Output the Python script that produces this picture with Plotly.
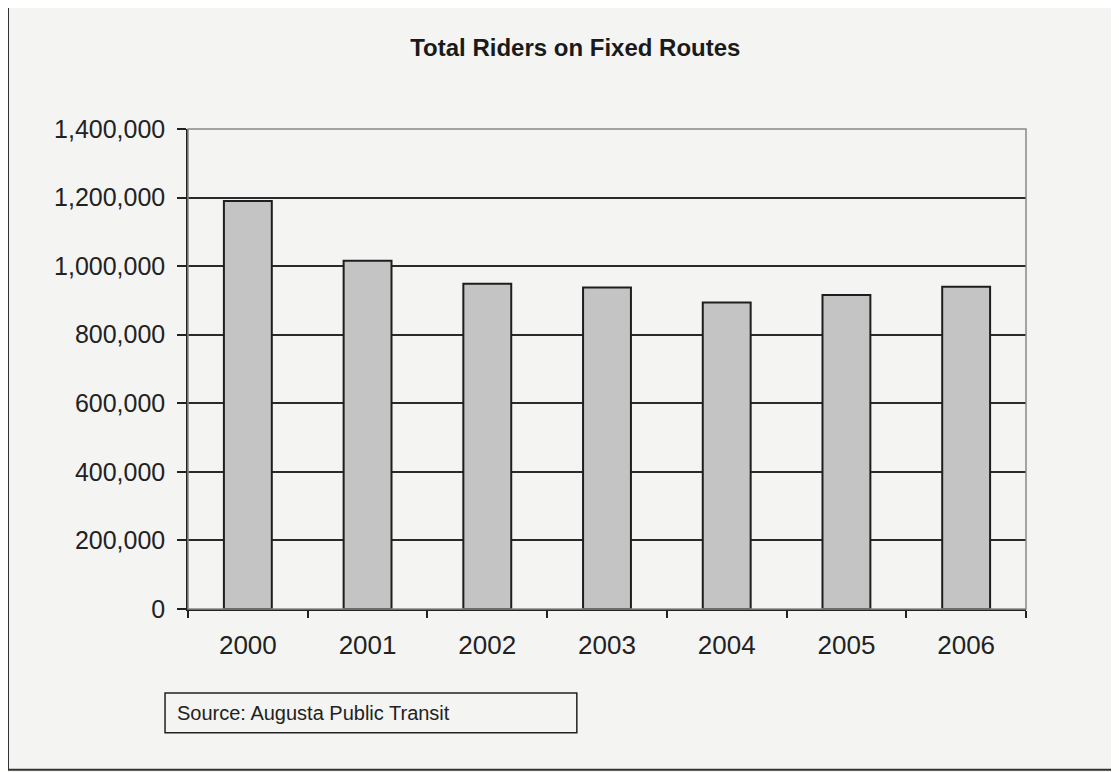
import plotly.graph_objects as go

years = ["2000", "2001", "2002", "2003", "2004", "2005", "2006"]
riders = [1190000, 1016000, 949000, 938000, 894000, 916000, 940000]
y_ticks = [0, 200000, 400000, 600000, 800000, 1000000, 1200000, 1400000]
y_labels = ["0", "200,000", "400,000", "600,000", "800,000", "1,000,000", "1,200,000", "1,400,000"]

BG = "#f4f4f3"
FONT = "Liberation Sans, Arial, sans-serif"

fig = go.Figure()
fig.add_trace(go.Bar(
    x=years,
    y=riders,
    marker=dict(color="#c4c4c4", line=dict(color="#1e1e1e", width=2)),
    showlegend=False,
))

fig.update_layout(
    width=1119,
    height=772,
    paper_bgcolor=BG,
    plot_bgcolor=BG,
    margin=dict(l=180, r=101, t=121, b=171),
    bargap=0.6,
    font=dict(family=FONT, color="#222"),
    title=dict(
        text="<b>Total Riders on Fixed Routes</b>",
        x=0.507, xanchor="center",
        y=0.949, yanchor="middle",
        font=dict(size=24, family=FONT, color="#1a1a1a"),
    ),
    xaxis=dict(
        type="category",
        tickson="boundaries",
        ticks="outside",
        ticklen=7,
        tickwidth=1.5,
        tickcolor="#222",
        showline=True,
        linecolor="#222",
        linewidth=1.5,
        showgrid=False,
        tickfont=dict(size=26, family=FONT, color="#222"),
        ticklabelstandoff=12,
    ),
    yaxis=dict(
        range=[0, 1400000],
        tickvals=y_ticks,
        ticktext=y_labels,
        ticks="outside",
        ticklen=9,
        tickwidth=1.5,
        tickcolor="#222",
        showline=True,
        linecolor="#222",
        linewidth=1.5,
        showgrid=True,
        gridcolor="#2a2a2a",
        gridwidth=1.5,
        zeroline=False,
        tickfont=dict(size=25, family=FONT, color="#222"),
        ticklabelstandoff=7,
    ),
    shapes=[
        # plot area border (right and top edges appear lighter)
        dict(type="rect", xref="paper", yref="paper", x0=0, x1=1, y0=0, y1=1,
             line=dict(color="#888", width=1.5), layer="above"),
        # source box
        dict(type="rect", xref="paper", yref="paper",
             x0=-0.0274, x1=0.464, y0=-0.258, y1=-0.175,
             line=dict(color="#222", width=1.5), fillcolor=BG),
        # outer chart border
        dict(type="rect", xref="paper", yref="paper",
             x0=-0.2148, x1=1.13, y0=-0.335, y1=1.258,
             line=dict(color="#333", width=2)),
    ],
    annotations=[
        dict(text="Source: Augusta Public Transit", xref="paper", yref="paper",
             x=-0.0155, y=-0.2165, xanchor="left", yanchor="middle",
             showarrow=False, font=dict(size=20, family=FONT, color="#222")),
    ],
)

fig.write_html("out.html")
